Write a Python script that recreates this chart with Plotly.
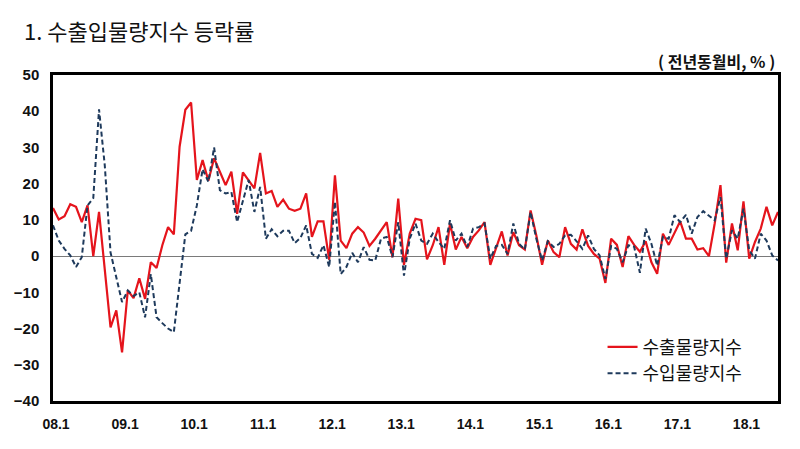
import plotly.graph_objects as go

# Monthly index 0 = 2008.1 ... 126 = 2018.7
export_vol = [13.3, 10.1, 11.0, 14.3, 13.6, 9.4, 14.0, 0.0, 12.2, -4.0,
              -19.7, -15.0, -26.6, -9.5, -11.6, -6.1, -11.8, -1.7, -3.3, 3.0,
              8.0, 6.0, 30.2, 40.4, 42.4, 21.0, 26.5, 20.8, 27.0, 23.3,
              19.6, 23.3, 11.7, 23.1, 21.0, 18.7, 28.5, 17.3, 18.0, 13.6,
              15.6, 13.1, 12.5, 13.1, 17.3, 5.3, 9.6, 9.6, -1.0, 22.3,
              4.3, 2.2, 6.2, 8.0, 6.5, 2.8, 4.8, 7.1, 9.4, -0.3,
              15.9, -2.4, 6.2, 10.3, 9.9, -0.9, 3.0, 8.0, -2.4, 9.0,
              1.8, 5.3, 2.2, 5.3, 7.1, 9.4, -2.4, 2.2, 6.8, 0.2,
              6.6, 3.0, 1.8, 12.6, 5.7, -2.4, 4.3, 1.1, -0.3, 8.0,
              3.4, 1.8, 7.4, 2.8, 0.6, -0.7, -7.4, 4.8, 3.1, -3.0,
              5.5, 3.1, 1.2, 4.1, -1.7, -4.9, 6.2, 3.1, 6.2, 9.6,
              4.8, 4.8, 1.8, 2.2, 0.0, 9.0, 19.6, -1.8, 9.0, 1.6,
              15.1, -0.7, 3.9, 7.6, 13.6, 8.5, 12.2]

import_vol = [8.5, 4.3, 2.0, 0.2, -3.0, -0.3, 14.0, 16.0, 40.5, 25.0,
              1.0, -6.0, -12.7, -9.5, -11.0, -10.0, -16.9, -5.0, -16.9, -18.5,
              -20.0, -21.0, -7.0, 6.0, 7.0, 14.0, 24.0, 20.5, 30.0, 18.2,
              17.3, 17.7, 9.4, 15.0, 21.0, 12.2, 19.1, 4.8, 7.4, 5.5,
              7.0, 7.0, 3.6, 5.0, 8.5, 0.6, -0.5, 3.0, -3.0, 15.0,
              -5.0, -3.0, 0.9, -1.7, 2.5, -1.0, -1.2, 4.8, 5.3, -0.3,
              9.4, -5.4, 4.8, 9.0, 4.3, 3.4, 6.2, 3.9, 2.0, 9.9,
              4.3, 6.2, 2.5, 7.6, 8.0, 9.0, -0.7, 2.8, 3.1, 0.6,
              9.0, 3.4, 1.8, 12.2, 4.8, -1.2, 4.1, 2.5, 3.4, 5.7,
              5.9, 4.1, 2.0, 5.7, 2.0, 0.2, -6.3, 2.8, 2.0, -1.7,
              3.0, 2.6, -4.6, 7.6, 3.4, -2.6, 5.3, 4.8, 11.3, 9.4,
              11.4, 6.2, 10.8, 12.4, 11.1, 9.9, 16.3, -0.7, 7.1, 4.8,
              13.1, 1.6, -0.7, 6.2, 4.3, 0.2, -1.2]

months = list(range(len(export_vol)))
tick_pos = list(range(0, 121, 12))
tick_text = ["08.1", "09.1", "10.1", "11.1", "12.1", "13.1",
             "14.1", "15.1", "16.1", "17.1", "18.1"]
y_ticks = list(range(-40, 51, 10))

fig = go.Figure()
fig.add_trace(go.Scatter(x=months, y=export_vol, mode="lines", name="수출물량지수",
                         line=dict(color="#e5141c", width=2.2)))
fig.add_trace(go.Scatter(x=months, y=import_vol, mode="lines", name="수입물량지수",
                         line=dict(color="#1e3a5c", width=2, dash="5px,3px")))

fig.update_layout(
    width=800, height=449,
    margin=dict(l=53, r=22, t=75, b=48),
    paper_bgcolor="white", plot_bgcolor="white",
    showlegend=True,
    legend=dict(x=0.758, y=0.222, xanchor="left", yanchor="top",
                font=dict(family="Noto Sans CJK KR", size=18, color="#111"),
                bgcolor="rgba(0,0,0,0)", tracegroupgap=0),
    annotations=[
        dict(text="1. 수출입물량지수 등락률", xref="paper", yref="paper",
             x=-0.043, y=1.138, xanchor="left", yanchor="middle", showarrow=False,
             font=dict(family="Noto Sans CJK KR", size=22, color="#111")),
        dict(text="( 전년동월비, % )", xref="paper", yref="paper",
             x=0.998, y=1.042, xanchor="right", yanchor="middle", showarrow=False,
             font=dict(family="Noto Sans CJK KR", size=16, color="#111", weight="bold")),
    ],
)

fig.update_xaxes(range=[0, 126], tickvals=tick_pos, ticktext=tick_text,
                 showgrid=False, zeroline=False, showline=True, linecolor="black",
                 linewidth=2.5, mirror=True, ticks="", ticklabelstandoff=8,
                 ticklabelshift=3,
                 tickfont=dict(family="Liberation Sans", size=14, color="#111", weight="bold"))
fig.update_yaxes(range=[-40, 50], tickvals=y_ticks,
                 showgrid=False, zeroline=True, zerolinecolor="#7a7a7a", zerolinewidth=1,
                 showline=True, linecolor="black", linewidth=2.5, mirror=True,
                 ticks="", ticklabelstandoff=8,
                 tickfont=dict(family="Liberation Sans", size=15, color="#111", weight="bold"))

fig.write_html("out.html")
